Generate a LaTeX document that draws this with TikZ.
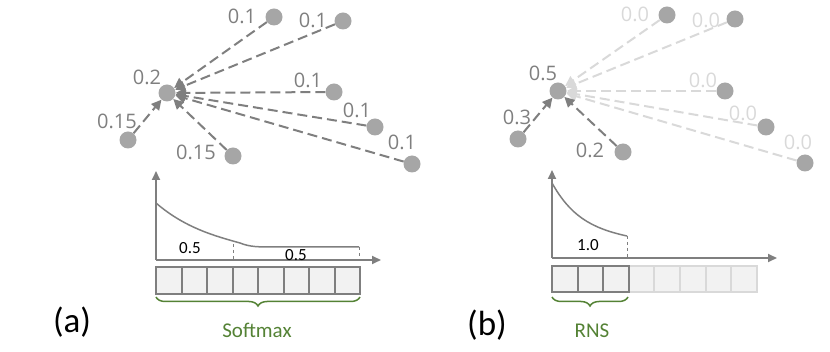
\documentclass[tikz,border=0pt]{standalone}
\usepackage{fontspec}
\setmainfont{Carlito}
\newfontfamily\wfont{Open Sans}
\usetikzlibrary{arrows.meta,decorations.pathreplacing}
\definecolor{dgray}{HTML}{7F7F7F}
\definecolor{ngray}{HTML}{A6A6A6}
\definecolor{lgray}{HTML}{D9D9D9}
\definecolor{cellfill}{HTML}{F2F2F2}
\definecolor{bracegreen}{HTML}{548235}
\tikzset{
  dot/.style={circle,fill=ngray,minimum size=17pt,inner sep=0pt},
  wlbl/.style={text=dgray,font=\wfont\fontsize{20}{24}\selectfont,inner sep=0pt},
  faintlbl/.style={wlbl,text=lgray},
  vallbl/.style={font=\fontsize{17}{20}\selectfont,inner sep=0pt},
  pull/.style={dgray,line width=2pt,dash pattern=on 10pt off 5pt,-{Triangle[length=10pt,width=10pt]}},
  faintpull/.style={pull,lgray},
  axis/.style={dgray,line width=2pt,-{Triangle[length=9pt,width=8pt]}},
  cell/.style={draw=dgray,fill=cellfill,line width=2pt},
  faintcell/.style={cell,draw=lgray},
  grpbrace/.style={bracegreen,line width=1.5pt,decorate,decoration={brace,amplitude=9pt}},
  grplbl/.style={text=bracegreen,font=\fontsize{21}{24}\selectfont,inner sep=0pt},
  panel/.style={font=\fontsize{35}{40}\selectfont,inner sep=0pt}
}
\begin{document}
\begin{tikzpicture}[x=1pt,y=-1pt]
\useasboundingbox (0,0) rectangle (830,352);

% (a) softmax
\node[dot] (ca) at (167,93) {};
\node[dot] (at1) at (274,17) {}; \node[dot] (at2) at (343,21) {};
\node[dot] (ar1) at (334,92) {}; \node[dot] (ar2) at (375,127) {};
\node[dot] (ar3) at (412,164) {};
\node[dot] (al) at (128,140) {}; \node[dot] (ab) at (233,156) {};
\foreach \n in {at1,at2,ar1,ar2,ar3,al,ab} \draw[pull] (\n) -- (ca);
\node[wlbl] (lca) at (147,77) {0.2};
\node[wlbl] (lat1) at (242,16) {0.1}; \node[wlbl] (lat2) at (313,20) {0.1};
\node[wlbl] (lar1) at (308,80) {0.1}; \node[wlbl] (lar2) at (357,110) {0.1};
\node[wlbl] (lar3) at (402,142) {0.1};
\node[wlbl] (lal) at (117,121) {0.15}; \node[wlbl] (lab) at (196,152) {0.15};

\coordinate (oa) at (156,260);
\draw[axis] (oa) -- (156,171);
\draw[axis] (oa) -- (381,260);
\draw[dgray,line width=1.5pt] (156,203) .. controls (185,228) and (215,236) .. (240,243)
  .. controls (250,247) and (258,247) .. (275,247) -- (359,247);
\draw[dgray,line width=0.8pt,dashed] (233,244) -- (233,260);
\draw[dgray,line width=0.8pt,dashed] (359,247) -- (359,260);
\node[vallbl] (va1) at (190,248) {0.5};
\node[vallbl] (va2) at (296,255) {0.5};
\foreach \i in {0,...,7} \draw[cell] (156+\i*25.5,267) rectangle ++(25.5,27);
\draw[grpbrace] (360,297) -- (156,297);
\node[grplbl] (sm) at (257,330) {Softmax};
\node[panel] (pa) at (72,322) {(a)};

% (b) RNS
\node[dot] (cb) at (558,91) {};
\node[dot] (bt1) at (667,15) {}; \node[dot] (bt2) at (735,19) {};
\node[dot] (br1) at (725,91) {}; \node[dot] (br2) at (766,127) {};
\node[dot] (br3) at (805,163) {};
\node[dot] (bl) at (518,139) {}; \node[dot] (bb) at (623,152) {};
\foreach \n in {bt1,bt2,br1,br2,br3} \draw[faintpull] (\n) -- (cb);
\foreach \n in {bl,bb} \draw[pull] (\n) -- (cb);
\node[wlbl] (lcb) at (543,73) {0.5};
\node[faintlbl] (lbt1) at (635,14) {0.0}; \node[faintlbl] (lbt2) at (706,20) {0.0};
\node[faintlbl] (lbr1) at (703,80) {0.0}; \node[faintlbl] (lbr2) at (743,113) {0.0};
\node[faintlbl] (lbr3) at (798,142) {0.0};
\node[wlbl] (lbl) at (517,117) {0.3}; \node[wlbl] (lbb) at (590,150) {0.2};

\coordinate (ob) at (552,258);
\draw[axis] (ob) -- (552,170);
\draw[axis] (ob) -- (777,258);
\draw[dgray,line width=1.5pt] (552,183) .. controls (570,215) and (590,228) .. (627,236);
\draw[dgray,line width=0.8pt,dashed] (627,236) -- (627,258);
\node[vallbl] (vb1) at (588,245) {1.0};
\foreach \i in {3,...,7} \draw[faintcell] (552+\i*25.6,266) rectangle ++(25.6,26);
\foreach \i in {0,1,2} \draw[cell] (552+\i*25.6,266) rectangle ++(25.6,26);
\draw[grpbrace] (628,297) -- (552,297);
\node[grplbl] (rns) at (592,331) {RNS};
\node[panel] (pb) at (487,325) {(b)};
\end{tikzpicture}
\end{document}
